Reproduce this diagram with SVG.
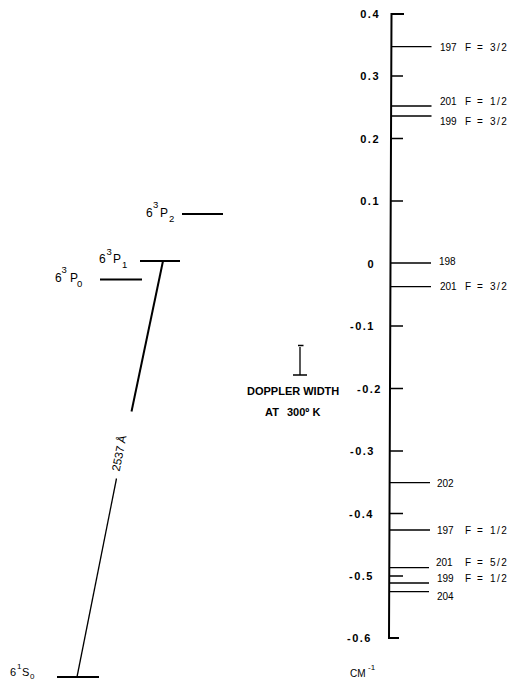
<svg xmlns="http://www.w3.org/2000/svg" width="513" height="679" viewBox="0 0 513 679">
<style>
.ln{stroke:#000;stroke-width:2;fill:none}
.tk{stroke:#000;stroke-width:1.3;fill:none}
.lvl{font-family:"Liberation Sans",Arial,sans-serif;font-size:12px;fill:#000}
.sup{font-size:9.5px}
.ax{font-family:"Liberation Sans",Arial,sans-serif;font-size:11px;font-weight:bold;letter-spacing:1.5px;fill:#000;text-anchor:end}
.iso{font-family:"Liberation Sans",Arial,sans-serif;font-size:10px;word-spacing:3px;fill:#000}
.fr{letter-spacing:1.5px}
.dop{font-family:"Liberation Sans",Arial,sans-serif;font-size:11px;font-weight:bold;fill:#000}
</style>
<rect width="513" height="679" fill="#fff"/>

<g id="connectors">
<line class="ln" x1="163" y1="261" x2="131.5" y2="411.5"/>
<line class="tk" x1="116.5" y1="478.5" x2="77" y2="677"/>
<text class="lvl" style="font-size:11.5px" transform="translate(123,454) rotate(-78.7)" text-anchor="middle">2537 Å</text>
</g>

<g id="level-6-3P2">
<line class="ln" x1="182" y1="214" x2="223" y2="214"/>
<text class="lvl"><tspan x="146" y="217">6</tspan><tspan class="sup" x="153" y="208">3</tspan><tspan x="160" y="217">P</tspan><tspan class="sup" x="169" y="222">2</tspan></text>
</g>
<g id="level-6-3P1">
<line class="ln" x1="140" y1="261" x2="180" y2="261"/>
<text class="lvl"><tspan x="99" y="263">6</tspan><tspan class="sup" x="106.5" y="255">3</tspan><tspan x="113" y="263">P</tspan><tspan class="sup" x="122" y="268">1</tspan></text>
</g>
<g id="level-6-3P0">
<line class="ln" x1="100" y1="279.5" x2="142" y2="279.5"/>
<text class="lvl"><tspan x="55" y="282">6</tspan><tspan class="sup" x="61.5" y="273">3</tspan><tspan x="70" y="282">P</tspan><tspan class="sup" x="77" y="287">0</tspan></text>
</g>
<g id="level-6-1S0">
<line class="ln" x1="57" y1="677" x2="99" y2="677"/>
<text class="lvl" style="font-size:11px"><tspan x="10" y="676">6</tspan><tspan class="sup" style="font-size:8px" x="17" y="669">1</tspan><tspan x="22" y="676">S</tspan><tspan class="sup" style="font-size:8px" x="30" y="678.5">0</tspan></text>
</g>

<g id="doppler-width">
<path class="tk" d="M300 347 V375 M293 375 H307 M298 345.5 H303.5"/>
<text class="dop" x="247" y="395">DOPPLER WIDTH</text>
<text class="dop" y="416"><tspan x="265">AT </tspan><tspan x="287">300º K</tspan></text>
</g>

<g id="axis">
<path class="ln" d="M404 14 H391.5 L389 638 H399"/>
<path class="tk" d="M391 76 H403 M390.8 138.5 H403 M390.5 201 H403 M390.2 326 H403 M390 388.5 H403 M389.8 451 H403 M389.6 513.5 H403 M389.3 576 H403"/>
<text class="ax" x="380" y="18">0.4</text>
<text class="ax" x="380" y="80">0.3</text>
<text class="ax" x="380" y="142.5">0.2</text>
<text class="ax" x="380" y="205">0.1</text>
<text class="ax" x="375" y="268">0</text>
<text class="ax" x="375" y="330">-0.1</text>
<text class="ax" x="382" y="393">-0.2</text>
<text class="ax" x="375" y="455">-0.3</text>
<text class="ax" x="374" y="518">-0.4</text>
<text class="ax" x="374" y="580">-0.5</text>
<text class="ax" x="372" y="642">-0.6</text>
<text class="iso" style="font-size:10px"><tspan x="350" y="677">CM</tspan><tspan style="font-size:8px" x="368" y="670">-1</tspan></text>
</g>

<g id="iso-197-F32">
<line class="tk" x1="391.5" y1="46.7" x2="431.5" y2="46.7"/>
<text class="iso" y="51"><tspan x="440">197 </tspan><tspan x="465">F = </tspan><tspan class="fr" x="490">3/2</tspan></text>
</g>
<g id="iso-201-F12">
<line class="tk" x1="391.3" y1="106" x2="431.5" y2="106"/>
<text class="iso" y="105"><tspan x="440">201 </tspan><tspan x="465">F = </tspan><tspan class="fr" x="490">1/2</tspan></text>
</g>
<g id="iso-199-F32">
<line class="tk" x1="391.3" y1="116" x2="431.5" y2="116"/>
<text class="iso" y="124.5"><tspan x="440">199 </tspan><tspan x="465">F = </tspan><tspan class="fr" x="490">3/2</tspan></text>
</g>
<g id="iso-198">
<line class="tk" x1="390.5" y1="263" x2="431" y2="263"/>
<text class="iso" y="265"><tspan x="439">198</tspan></text>
</g>
<g id="iso-201-F32">
<line class="tk" x1="390.5" y1="286.7" x2="431" y2="286.7"/>
<text class="iso" y="290"><tspan x="440">201 </tspan><tspan x="465">F = </tspan><tspan class="fr" x="490">3/2</tspan></text>
</g>
<g id="iso-202">
<line class="tk" x1="389.6" y1="482.7" x2="430" y2="482.7"/>
<text class="iso" y="487"><tspan x="437">202</tspan></text>
</g>
<g id="iso-197-F12">
<line class="tk" x1="389.5" y1="530" x2="430" y2="530"/>
<text class="iso" y="533.5"><tspan x="437">197 </tspan><tspan x="465">F = </tspan><tspan class="fr" x="490">1/2</tspan></text>
</g>
<g id="iso-201-F52">
<line class="tk" x1="389.4" y1="567.7" x2="429" y2="567.7"/>
<text class="iso" y="566"><tspan x="436">201 </tspan><tspan x="465">F = </tspan><tspan class="fr" x="490">5/2</tspan></text>
</g>
<g id="iso-199-F12">
<line class="tk" x1="389.3" y1="583" x2="429" y2="583"/>
<text class="iso" y="582"><tspan x="437">199 </tspan><tspan x="465">F = </tspan><tspan class="fr" x="490">1/2</tspan></text>
</g>
<g id="iso-204">
<line class="tk" x1="389.3" y1="591.7" x2="429" y2="591.7"/>
<text class="iso" y="599.5"><tspan x="437">204</tspan></text>
</g>
</svg>
